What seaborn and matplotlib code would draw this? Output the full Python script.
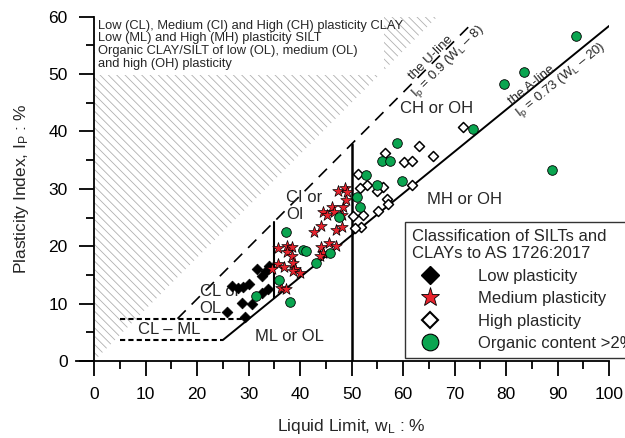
import matplotlib
matplotlib.use("Agg")
import matplotlib.pyplot as plt
import seaborn as sns
import pandas as pd
from matplotlib.patches import Polygon, Rectangle
from matplotlib.lines import Line2D
from matplotlib.ticker import MultipleLocator

sns.set_theme(style="white")
plt.rcParams['font.family'] = ['Liberation Sans', 'DejaVu Sans']
plt.rcParams['mathtext.fontset'] = 'custom'
plt.rcParams['mathtext.rm'] = 'Liberation Sans'
plt.rcParams['mathtext.it'] = 'Liberation Sans:italic'
plt.rcParams['hatch.linewidth'] = 0.6

# ---------------- data ----------------
low_wl = [25.8, 26.7, 28.0, 29.0, 30.0, 28.7, 30.7, 29.3, 31.6, 32.6, 33.3, 34.0, 33.8, 32.7]
low_ip = [8.5, 13.1, 12.7, 12.9, 13.4, 10.1, 9.9, 7.7, 16.0, 14.8, 15.7, 16.5, 12.5, 11.9]

med_wl = [35.8, 37.4, 38.4, 37.5, 38.4, 35.8, 36.8, 38.7, 39.0, 38.7, 39.9, 34.5,
          36.3, 37.3, 44.0, 45.7, 47.0, 44.4, 43.9, 44.0, 42.7, 47.0, 48.2,
          44.5, 45.3, 46.2, 46.5, 48.1, 48.4, 48.9, 47.3, 48.7, 49.1]
med_ip = [19.7, 20.0, 19.9, 19.0, 18.3, 16.9, 16.4, 17.0, 16.1, 15.6, 15.3, 16.1,
          12.7, 12.5, 19.9, 20.6, 20.0, 18.9, 18.3, 23.5, 22.5, 22.9, 23.4,
          26.0, 25.4, 26.8, 26.0, 25.4, 26.8, 28.0, 29.7, 30.1, 29.5]

high_wl = [71.7, 63.1, 65.8, 56.5, 60.1, 61.7, 51.3, 52.9, 51.7, 56.1, 54.9, 61.7,
           56.8, 57.0, 55.2, 52.3, 50.3, 51.9, 50.6]
high_ip = [40.8, 37.5, 35.8, 36.2, 34.7, 34.8, 32.6, 30.6, 30.2, 30.4, 29.6, 30.6,
           28.3, 27.3, 26.1, 25.5, 25.2, 23.4, 23.2]

org_wl = [31.5, 36.0, 38.1, 37.3, 40.5, 41.2, 43.0, 45.8, 47.6, 51.1, 51.6, 52.8,
          55.0, 56.0, 57.5, 58.8, 59.8, 73.5, 79.6, 83.4, 93.5, 89.0]
org_ip = [11.3, 14.1, 10.3, 22.5, 19.3, 19.2, 17.1, 18.9, 25.1, 28.5, 26.9, 32.4,
          30.7, 34.8, 34.8, 38.0, 31.3, 40.5, 48.3, 50.4, 56.7, 33.3]

series_labels = ["Low plasticity", "Medium plasticity", "High plasticity",
                 "Organic content >2%"]
x_ticks = [0, 10, 20, 30, 40, 50, 60, 70, 80, 90, 100]
y_ticks = [0, 10, 20, 30, 40, 50, 60]

GREEN = "#0aa550"
RED = "#e8232d"

# ---------------- figure ----------------
fig = plt.figure(figsize=(6.25, 4.38), dpi=100)
ax = fig.add_axes([0.1216, 0.1758, 0.853, 0.786])
ax.set_xlim(-3.5, 100)
ax.set_ylim(0, 60)

# hatched zone + white text box
hatch = Polygon([(0, 0), (0, 60), (60 / 0.9, 60)], closed=True, fill=False,
                hatch='\\\\\\\\', edgecolor='#b0b0b0', linewidth=0, zorder=1)
ax.add_patch(hatch)
ax.add_patch(Rectangle((0.2, 49.8), 56, 10.2, facecolor='white',
                       edgecolor='none', zorder=2))
ax.text(0.8, 59.5, "Low (CL), Medium (CI) and High (CH) plasticity CLAY\n"
        "Low (ML) and High (MH) plasticity SILT\n"
        "Organic CLAY/SILT of low (OL), medium (OL)\n"
        "and high (OH) plasticity", fontsize=9.3, va='top', ha='left',
        linespacing=1.08, zorder=3)

# A-line and U-line
a_x = [25, 100]
ax.plot(a_x, [0.73 * (v - 20) for v in a_x], color='black', lw=1.4, zorder=3)
u_x = [16.2, 73.7]
ax.plot(u_x, [0.9 * (v - 8) for v in u_x], color='black', lw=1.2,
        dashes=(7, 5), zorder=3)
# CL-ML band
ax.plot([5, 7.4 / 0.73 + 20], [7.4, 7.4], color='black',
        lw=1.5, dashes=(2.5, 1.5), zorder=3)
ax.plot([5, 25], [3.65, 3.65], color='black', lw=1.5, dashes=(2.5, 1.5), zorder=3)
# verticals
ax.plot([35, 35], [0.73 * 15, 0.9 * 27], color='black', lw=1.5, zorder=3)
ax.plot([50, 50], [0, 0.9 * 42], color='black', lw=1.8, zorder=3)

# zone labels
zfs = 12
ax.text(66.5, 44.0, "CH or OH", fontsize=zfs, ha='center', va='center', zorder=3)
ax.text(72.0, 28.2, "MH or OH", fontsize=zfs, ha='center', va='center', zorder=3)
ax.text(38.0, 4.3, "ML or OL", fontsize=zfs, ha='center', va='center', zorder=3)
ax.text(14.5, 5.5, "CL – ML", fontsize=zfs, ha='center', va='center', zorder=3)
ax.text(37.3, 27.0, "CI or\nOI", fontsize=zfs, ha='left', va='center',
        linespacing=1.15, zorder=3)
ax.text(20.5, 10.6, "CL or\nOL", fontsize=zfs, ha='left', va='center',
        linespacing=1.15, zorder=3)

# line annotations
ax.text(65.4, 52.9, "the U-line", fontsize=9.5, rotation=45, ha='center',
        va='center', rotation_mode='anchor', zorder=3)
ax.text(68.8, 52.2, r"I$_\mathrm{p}$ = 0.9 (W$_\mathrm{L}$ – 8)", fontsize=9.5,
        rotation=45, ha='center', va='center', rotation_mode='anchor', zorder=3)
ax.text(85.0, 48.1, "the A-line", fontsize=9.5, rotation=39, ha='center',
        va='center', rotation_mode='anchor', zorder=3)
ax.text(90.6, 49.0, r"I$_\mathrm{p}$ = 0.73 (W$_\mathrm{L}$ – 20)", fontsize=9.5,
        rotation=39, ha='center', va='center', rotation_mode='anchor', zorder=3)

# data points
sns.scatterplot(x=low_wl, y=low_ip, marker='D', color='black', edgecolor='black',
                s=30, linewidth=0.5, ax=ax, zorder=5, legend=False)
sns.scatterplot(x=med_wl, y=med_ip, marker='*', color=RED, edgecolor='black',
                s=75, linewidth=0.5, ax=ax, zorder=5, legend=False)
sns.scatterplot(x=high_wl, y=high_ip, marker='D', color='white', edgecolor='black',
                s=26, linewidth=1.1, ax=ax, zorder=5, legend=False)
sns.scatterplot(x=org_wl, y=org_ip, marker='o', color=GREEN, edgecolor='black',
                s=48, linewidth=0.6, ax=ax, zorder=5, legend=False)

# axes styling
for side in ['top', 'right']:
    ax.spines[side].set_visible(False)
ax.spines['left'].set_position(('data', 0))
ax.spines['left'].set_bounds(0, 60)
for side in ['left', 'bottom']:
    ax.spines[side].set_linewidth(1.3)
    ax.spines[side].set_color('black')
ax.set_xticks(x_ticks)
ax.set_yticks(y_ticks)
ax.xaxis.set_minor_locator(MultipleLocator(5))
ax.yaxis.set_minor_locator(MultipleLocator(5))
ax.tick_params(which='major', direction='out', length=11, width=1.3,
               colors='black', labelsize=12.5, pad=8, bottom=True, left=True)
ax.tick_params(which='minor', direction='out', length=5.5, width=1.3,
               colors='black', bottom=True, left=True)
ax.set_xlabel(r"Liquid Limit, w$_\mathrm{L}$ : %", fontsize=12.5)
ax.set_ylabel(r"Plasticity Index, I$_\mathrm{P}$ : %", fontsize=12.5)
ax.xaxis.set_label_coords(0.517, -0.163)
ax.yaxis.set_label_coords(-0.085, 0.5)
ax.grid(False)

# legend
handles = [
    Line2D([], [], marker='D', color='none', markerfacecolor='black',
           markeredgecolor='black', markersize=9),
    Line2D([], [], marker='*', color='none', markerfacecolor=RED,
           markeredgecolor='black', markeredgewidth=0.6, markersize=14),
    Line2D([], [], marker='D', color='none', markerfacecolor='white',
           markeredgecolor='black', markeredgewidth=1.5, markersize=8),
    Line2D([], [], marker='o', color='none', markerfacecolor=GREEN,
           markeredgecolor='black', markeredgewidth=0.8, markersize=12),
]
leg = fig.legend(handles, series_labels,
                 title="Classification of SILTs and\nCLAYs to AS 1726:2017",
                 loc='upper left', bbox_to_anchor=(405 / 625, 1 - 222 / 438),
                 fontsize=12, title_fontsize=12, alignment='left',
                 frameon=True, fancybox=False, edgecolor='black',
                 handlelength=2.2, handletextpad=1.8, labelspacing=0.45,
                 borderpad=0.4, borderaxespad=0)
leg.get_frame().set_linewidth(1.0)
leg.set_zorder(10)

fig.savefig("out.png", dpi=100)
